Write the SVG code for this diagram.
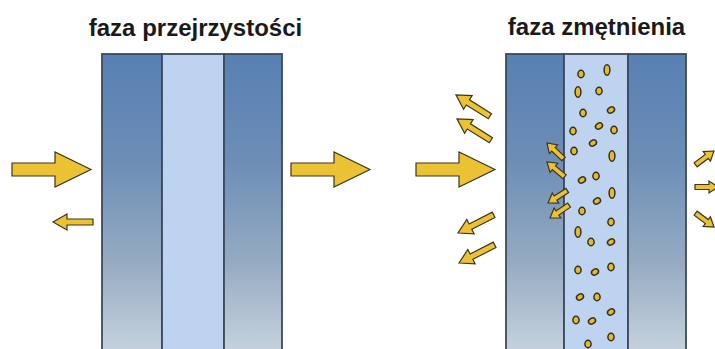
<svg xmlns="http://www.w3.org/2000/svg" xmlns:xlink="http://www.w3.org/1999/xlink" width="715" height="349" viewBox="0 0 715 349">
  <style>
    .title { font-family: "Liberation Sans", Arial, sans-serif; font-weight: bold; font-size: 24px; fill: #1a1a1a; text-anchor: middle; }
    .pane { fill: url(#paneGrad); stroke: #3b4a5c; stroke-width: 1.8; }
    .gap { fill: #bed3ef; stroke: #3b4a5c; stroke-width: 1.8; }
    .arrow { fill: #ebc233; stroke: #3d3520; stroke-width: 1.2; stroke-linejoin: miter; }
    .dot { fill: #e4bb2e; stroke: #35301e; stroke-width: 1.5; }
  </style>
  <defs>
    <linearGradient id="paneGrad" x1="0" y1="0" x2="0" y2="1">
      <stop offset="0" stop-color="#5880b3"/>
      <stop offset="0.35" stop-color="#6c8db6"/>
      <stop offset="0.7" stop-color="#96abc2"/>
      <stop offset="1" stop-color="#c8d3de"/>
    </linearGradient>
    <!-- arrow shapes: tip at origin, pointing along +x -->
    <path id="arrowBig" d="M0,0 L-36,-17.5 V-6.5 H-79 V6.5 H-36 V17.5 Z"/>
    <path id="arrowMid" d="M0,0 L-14,-8 V-3 H-40 V3 H-14 V8 Z"/>
    <path id="arrowSmall" d="M0,0 L-9,-6 V-2.5 H-23 V2.5 H-9 V6 Z"/>
    <ellipse id="dotRound" rx="3.1" ry="3.7"/>
    <ellipse id="dotTall" rx="2.9" ry="5.2"/>
    <ellipse id="dotTilt" rx="3.7" ry="2.8" transform="rotate(-30)"/>
  </defs>

  <rect width="715" height="349" fill="#ffffff"/>

  <!-- transparent state -->
  <g id="clear-phase">
    <text class="title" x="195.5" y="36">faza przejrzystości</text>
    <rect class="pane" x="102" y="54" width="60" height="300"/>
    <rect class="gap" x="162" y="54" width="62" height="300"/>
    <rect class="pane" x="224" y="54" width="58" height="300"/>
  </g>

  <!-- opaque state -->
  <g id="opaque-phase">
    <text class="title" x="596.5" y="35">faza zmętnienia</text>
    <rect class="pane" x="506" y="54" width="58" height="300"/>
    <rect class="gap" x="564" y="54" width="64" height="300"/>
    <rect class="pane" x="628" y="54" width="58" height="300"/>
    <g id="particles" class="dot">
      <use xlink:href="#dotRound" transform="translate(581,74)"/>
      <use xlink:href="#dotTall" transform="translate(607,70)"/>
      <use xlink:href="#dotTall" transform="translate(578,92)"/>
      <use xlink:href="#dotRound" transform="translate(599,91)"/>
      <use xlink:href="#dotRound" transform="translate(583,113)"/>
      <use xlink:href="#dotTilt" transform="translate(611,110)"/>
      <use xlink:href="#dotRound" transform="translate(573,131)"/>
      <use xlink:href="#dotTilt" transform="translate(599,126)"/>
      <use xlink:href="#dotRound" transform="translate(614,130)"/>
      <use xlink:href="#dotTilt" transform="translate(593,143)"/>
      <use xlink:href="#dotRound" transform="translate(574,151)"/>
      <use xlink:href="#dotTall" transform="translate(612,156)"/>
      <use xlink:href="#dotTilt" transform="translate(582,180)"/>
      <use xlink:href="#dotRound" transform="translate(596,176)"/>
      <use xlink:href="#dotTall" transform="translate(612,193)"/>
      <use xlink:href="#dotTilt" transform="translate(597,201)"/>
      <use xlink:href="#dotRound" transform="translate(582,211)"/>
      <use xlink:href="#dotRound" transform="translate(611,222)"/>
      <use xlink:href="#dotTall" transform="translate(578,232)"/>
      <use xlink:href="#dotRound" transform="translate(591,242)"/>
      <use xlink:href="#dotTilt" transform="translate(611,242)"/>
      <use xlink:href="#dotRound" transform="translate(578,270)"/>
      <use xlink:href="#dotTilt" transform="translate(595,272)"/>
      <use xlink:href="#dotRound" transform="translate(611,267)"/>
      <use xlink:href="#dotTilt" transform="translate(580,297)"/>
      <use xlink:href="#dotRound" transform="translate(597,297)"/>
      <use xlink:href="#dotTilt" transform="translate(611,312)"/>
      <use xlink:href="#dotRound" transform="translate(576,320)"/>
      <use xlink:href="#dotTilt" transform="translate(592,321)"/>
      <use xlink:href="#dotRound" transform="translate(611,337)"/>
      <use xlink:href="#dotRound" transform="translate(588,344)"/>
    </g>
  </g>

  <!-- light rays -->
  <g id="arrows" class="arrow">
    <!-- transparent: incoming, weak reflection, transmitted -->
    <use xlink:href="#arrowBig" transform="translate(91,169.5)"/>
    <use xlink:href="#arrowMid" transform="translate(53,222) rotate(180)"/>
    <use xlink:href="#arrowBig" transform="translate(370,169.5)"/>
    <!-- opaque: incoming -->
    <use xlink:href="#arrowBig" transform="translate(495,169.5)"/>
    <!-- scattered back out of the front pane -->
    <use xlink:href="#arrowMid" transform="translate(456,95) rotate(-148)"/>
    <use xlink:href="#arrowMid" transform="translate(457,119) rotate(-148)"/>
    <use xlink:href="#arrowMid" transform="translate(458,233) rotate(153)"/>
    <use xlink:href="#arrowMid" transform="translate(459,263) rotate(153)"/>
    <!-- scattered at the particle layer -->
    <use xlink:href="#arrowSmall" transform="translate(547,143) rotate(-136)"/>
    <use xlink:href="#arrowSmall" transform="translate(547,162) rotate(-140)"/>
    <use xlink:href="#arrowSmall" transform="translate(548,203) rotate(147)"/>
    <use xlink:href="#arrowSmall" transform="translate(550,218) rotate(146)"/>
    <!-- diffuse transmission -->
    <use xlink:href="#arrowSmall" transform="translate(714,151) rotate(-37)"/>
    <use xlink:href="#arrowSmall" transform="translate(718,187)"/>
    <use xlink:href="#arrowSmall" transform="translate(714,227) rotate(37)"/>
  </g>
</svg>
